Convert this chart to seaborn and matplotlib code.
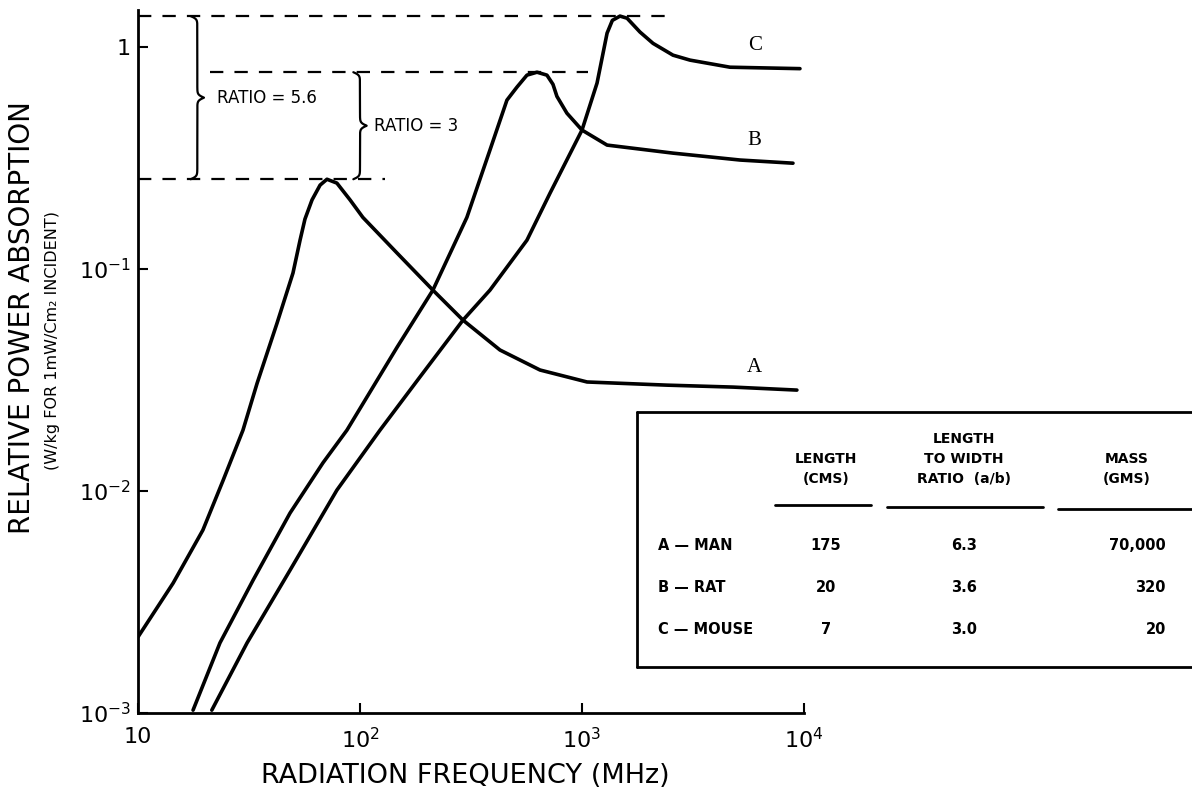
import numpy as np
import pandas as pd
import matplotlib
matplotlib.use('Agg')
import matplotlib.pyplot as plt
from matplotlib.lines import Line2D
from matplotlib.ticker import NullLocator
import seaborn as sns

# curve A - man
freq_a = [10, 14.4, 19.6, 24.2, 29.7, 34.4, 42.3, 49.9, 53.7, 56.5, 60.8, 66.1, 71,
          78.7, 90.2, 103, 147, 213, 291, 427, 647, 1054, 2417, 4790, 9290]
abs_a = [0.0022, 0.00385, 0.00667, 0.0112, 0.0188, 0.0306, 0.0571, 0.096, 0.135, 0.168, 0.205, 0.239, 0.254,
         0.244, 0.205, 0.171, 0.118, 0.0804, 0.0589, 0.0432, 0.0351, 0.031, 0.030, 0.0294, 0.0285]

# curve B - rat
freq_b = [17.7, 23.4, 33, 48.4, 68.1, 87.3, 147, 213, 303, 385, 459, 509, 565, 627,
          695, 740, 771, 855, 1000, 1297, 2570, 5150, 8920]
abs_b = [0.00103, 0.00207, 0.00397, 0.00796, 0.0134, 0.0188, 0.0445, 0.0804, 0.171, 0.344, 0.577, 0.66, 0.748, 0.771,
         0.748, 0.680, 0.600, 0.504, 0.423, 0.362, 0.333, 0.310, 0.30]

# curve C - mouse
freq_c = [21.5, 31, 48.4, 78.7, 123, 186, 291, 385, 565, 718, 1000, 1169, 1297, 1370, 1483,
          1596, 1824, 2089, 2570, 3065, 4642, 9590]
abs_c = [0.00103, 0.00207, 0.0044, 0.0101, 0.0188, 0.0326, 0.0589, 0.0804, 0.135, 0.22, 0.423, 0.689, 1.156, 1.32, 1.38,
         1.35, 1.17, 1.04, 0.92, 0.874, 0.812, 0.80]

curve_names = ['A', 'B', 'C']

x_ticks = [10, 100, 1000, 10000]
x_ticklabels = ['10', '$10^2$', '$10^3$', '$10^4$']
y_ticks = [1e-3, 1e-2, 1e-1, 1]
y_ticklabels = ['$10^{-3}$', '$10^{-2}$', '$10^{-1}$', '1']

# table in the lower right
header_lines = [['LENGTH', '(CMS)'], ['LENGTH', 'TO WIDTH', 'RATIO  (a/b)'], ['MASS', '(GMS)']]
row_names = ['A — MAN', 'B — RAT', 'C — MOUSE']
length_cms = ['175', '20', '7']
ratio_ab = ['6.3', '3.6', '3.0']
mass_gms = ['70,000', '320', '20']

sns.set_style('ticks')
plt.rcParams['font.family'] = ['DejaVu Sans']
plt.rcParams['mathtext.default'] = 'regular'
plt.rcParams['text.color'] = 'black'
plt.rcParams['axes.labelcolor'] = 'black'
plt.rcParams['xtick.color'] = 'black'
plt.rcParams['ytick.color'] = 'black'

W, H = 1192, 792
fig = plt.figure(figsize=(W / 100, H / 100), dpi=100)


def px(x, y):
    # pixel position -> figure fraction
    return x / W, 1 - y / H


ax = fig.add_axes([138 / W, 1 - 713 / H, 666 / W, 703 / H])

df = pd.concat([
    pd.DataFrame({'freq': freq_a, 'absorption': abs_a, 'species': 'A'}),
    pd.DataFrame({'freq': freq_b, 'absorption': abs_b, 'species': 'B'}),
    pd.DataFrame({'freq': freq_c, 'absorption': abs_c, 'species': 'C'}),
])

sns.lineplot(data=df, x='freq', y='absorption', hue='species', palette=['black'] * 3,
             estimator=None, sort=False, legend=False, linewidth=2.6, ax=ax,
             solid_capstyle='round', solid_joinstyle='round')

ax.set_xscale('log')
ax.set_yscale('log')
ax.set_xlim(10, 1e4)
ax.set_ylim(1e-3, 1.47)
ax.set_xticks(x_ticks)
ax.set_xticklabels(x_ticklabels)
ax.set_yticks(y_ticks)
ax.set_yticklabels(y_ticklabels)
ax.xaxis.set_minor_locator(NullLocator())
ax.yaxis.set_minor_locator(NullLocator())
ax.tick_params(direction='in', length=7, width=1.5, labelsize=16, colors='black')
ax.tick_params(axis='x', pad=10)
ax.tick_params(axis='y', pad=5)
ax.set_xlabel('')
ax.set_ylabel('')
sns.despine(ax=ax)
for s in ['left', 'bottom']:
    ax.spines[s].set_linewidth(2)
    ax.spines[s].set_color('black')

# peak levels and ratio marks
peaks = [max(abs_a), max(abs_b), max(abs_c)]
peak_a, peak_b, peak_c = peaks
dash = (0, (6, 5))
ax.hlines(peak_c, 10, 2420, colors='black', linestyles=dash, lw=1.6)
ax.hlines(peak_b, 21, 1060, colors='black', linestyles=dash, lw=1.6)
ax.hlines(peak_a, 10, 130, colors='black', linestyles=dash, lw=1.6)


def brace(ax, f, y_lo, y_hi, width=0.06, beta=150):
    lx = np.log10(f)
    a, b = np.log10(y_lo), np.log10(y_hi)
    half = (b - a) / 2
    t = np.linspace(0, half, 200)
    s = 1 / (1 + np.exp(-beta * t)) + 1 / (1 + np.exp(-beta * (t - half))) - 0.5
    x = lx + width * (s - 0.5)
    xs = np.concatenate([x, x[::-1]])
    ys = np.concatenate([a + t, (b - t)[::-1]])
    ax.plot(10 ** xs, 10 ** ys, color='black', lw=1.6)


brace(ax, 18.5, peak_a, peak_c)
brace(ax, 100, peak_a, peak_b)
ax.text(22.7, np.sqrt(peak_a * peak_c), 'RATIO = 5.6', fontsize=12, va='center', ha='left')
ax.text(116, np.sqrt(peak_a * peak_b), 'RATIO = 3', fontsize=12, va='center', ha='left')

# curve labels
for name, ys in zip(curve_names, [abs_a, abs_b, abs_c]):
    ax.text(6000, ys[-1] * 1.27, name, fontsize=15, family='Liberation Serif',
            ha='center', va='center')

# axis titles
fig.text(*px(22, 318), 'RELATIVE POWER ABSORPTION', rotation=90, fontsize=20,
         ha='center', va='center')
fig.text(*px(53, 340), '(W/kg FOR 1mW/Cm₂ INCIDENT)', rotation=90, fontsize=11.5,
         ha='center', va='center')
fig.text(*px(465, 776), 'RADIATION FREQUENCY (MHz)', fontsize=19.5, ha='center', va='center')

# table box (runs off the right edge)
lw_box = 2
fig.add_artist(Line2D([637 / W, 1.01], [1 - 412 / H] * 2, color='black', lw=lw_box))
fig.add_artist(Line2D([637 / W, 1.01], [1 - 667 / H] * 2, color='black', lw=lw_box))
fig.add_artist(Line2D([637 / W] * 2, [1 - 412 / H, 1 - 667 / H], color='black', lw=lw_box))

col_x = [826, 964, 1127]
for cx, lines in zip(col_x, header_lines):
    for i, line in enumerate(lines[::-1]):
        fig.text(*px(cx, 486 - 20 * i), line, fontsize=10, fontweight='bold',
                 ha='center', va='bottom')

for (x0, x1), yy in zip([(775, 871), (887, 1043), (1058, 1195)], [505, 507, 509]):
    fig.add_artist(Line2D([x0 / W, x1 / W], [1 - yy / H] * 2, color='black', lw=2))

row_y = [545, 588, 630]
for yy, name, l, r, m in zip(row_y, row_names, length_cms, ratio_ab, mass_gms):
    fig.text(*px(658, yy), name, fontsize=10.5, fontweight='bold', ha='left', va='center')
    fig.text(*px(826, yy), l, fontsize=10.5, fontweight='bold', ha='center', va='center')
    fig.text(*px(964, yy), r, fontsize=10.5, fontweight='bold', ha='center', va='center')
    fig.text(*px(1166, yy), m, fontsize=10.5, fontweight='bold', ha='right', va='center')

fig.savefig('out.png', dpi=100)
